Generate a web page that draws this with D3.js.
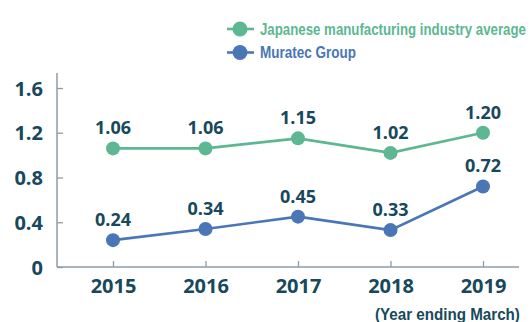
<!DOCTYPE html>
<html>
<head>
<meta charset="utf-8">
<script src="https://cdn.jsdelivr.net/npm/d3@7"></script>
<style>
  html, body { margin: 0; padding: 0; background: #fff; }
  svg { display: block; }
</style>
</head>
<body>
<svg id="chart" width="532" height="322"></svg>
<script>
// Data
const years = ["2015", "2016", "2017", "2018", "2019"];
const industryAvg = [1.06, 1.06, 1.15, 1.02, 1.20];
const muratec = [0.24, 0.34, 0.45, 0.33, 0.72];
const yTicks = [0, 0.4, 0.8, 1.2, 1.6];
const seriesNames = ["Japanese manufacturing industry average", "Muratec Group"];

const colors = { green: "#5cb792", blue: "#4a76b6", text: "#17485b", axis: "#8c9ba6" };
const numFont = "'Open Sans', 'DejaVu Sans', sans-serif";
const narrowFont = "'Liberation Sans Narrow', 'Liberation Sans', sans-serif";

const svg = d3.select("#chart");

// Condensed text: squeeze a text horizontally to a given width, anchored at (x, y)
function condensedText(parent, str, xPos, yPos, width, anchor) {
  const g = parent.append("g");
  const t = g.append("text")
    .attr("font-family", narrowFont)
    .attr("font-weight", 700)
    .attr("font-size", 16)
    .text(str);
  const natural = t.node().getComputedTextLength();
  const k = width / natural;
  const x0 = anchor === "end" ? xPos - width : xPos;
  g.attr("transform", `translate(${x0},${yPos}) scale(${k},1)`);
  return t;
}

const x = d3.scalePoint().domain(years).range([113, 483]);
const y = d3.scaleLinear().domain([0, 1.6]).range([267, 88]);

// Y axis
const yAxis = svg.append("g")
  .attr("transform", "translate(57,0)")
  .call(d3.axisLeft(y).tickValues(yTicks).tickSize(-6).tickPadding(14)
    .tickFormat(d => d === 0 ? "0" : d3.format(".1f")(d)));
yAxis.select(".domain").remove();
yAxis.selectAll(".tick line").attr("stroke", colors.axis).attr("stroke-width", 1.3);
yAxis.selectAll(".tick text")
  .attr("fill", colors.text)
  .attr("font-family", numFont)
  .attr("font-weight", 700)
  .attr("font-size", 20)
  .attr("dy", "0.36em");
svg.append("line")
  .attr("x1", 57).attr("x2", 57).attr("y1", 73).attr("y2", y(0))
  .attr("stroke", colors.axis).attr("stroke-width", 1.5);

// X axis
const xAxis = svg.append("g")
  .attr("transform", `translate(0,${y(0)})`)
  .call(d3.axisBottom(x).tickSize(-6).tickPadding(12));
xAxis.select(".domain").remove();
xAxis.selectAll(".tick line").attr("stroke", colors.axis).attr("stroke-width", 1.3);
xAxis.selectAll(".tick text")
  .attr("fill", colors.text)
  .attr("font-family", numFont)
  .attr("font-weight", 700)
  .attr("font-size", 20);
svg.append("line")
  .attr("x1", 57).attr("x2", 519).attr("y1", y(0)).attr("y2", y(0))
  .attr("stroke", colors.axis).attr("stroke-width", 1.5);

condensedText(svg, "(Year ending March)", 520, 320, 145, "end")
  .attr("fill", colors.text);

// Series
const series = [
  { name: seriesNames[0], values: industryAvg, color: colors.green },
  { name: seriesNames[1], values: muratec, color: colors.blue }
];
const line = d3.line().x((d, i) => x(years[i])).y(d => y(d));

series.forEach(s => {
  const g = svg.append("g");
  g.append("path")
    .attr("d", line(s.values))
    .attr("fill", "none")
    .attr("stroke", s.color)
    .attr("stroke-width", 2.6);
  g.selectAll("circle").data(s.values).join("circle")
    .attr("cx", (d, i) => x(years[i]))
    .attr("cy", d => y(d))
    .attr("r", 7)
    .attr("fill", s.color);
  g.selectAll("text").data(s.values).join("text")
    .attr("x", (d, i) => x(years[i]))
    .attr("y", d => y(d) - 14)
    .attr("text-anchor", "middle")
    .attr("fill", colors.text)
    .attr("font-family", numFont)
    .attr("font-weight", 700)
    .attr("font-size", 18)
    .text(d => d3.format(".2f")(d));
});

// Legend
const legend = svg.append("g");
const legendRows = [
  { y: 29, w: 266 },
  { y: 52.5, w: 96 }
];
series.forEach((s, i) => {
  const r = legendRows[i];
  legend.append("line")
    .attr("x1", 227).attr("x2", 254).attr("y1", r.y).attr("y2", r.y)
    .attr("stroke", s.color).attr("stroke-width", 2.6);
  legend.append("circle")
    .attr("cx", 240).attr("cy", r.y).attr("r", 7.5).attr("fill", s.color);
  condensedText(legend, s.name, 260, r.y + 5.5, r.w, "start")
    .attr("fill", s.color);
});
</script>
</body>
</html>
